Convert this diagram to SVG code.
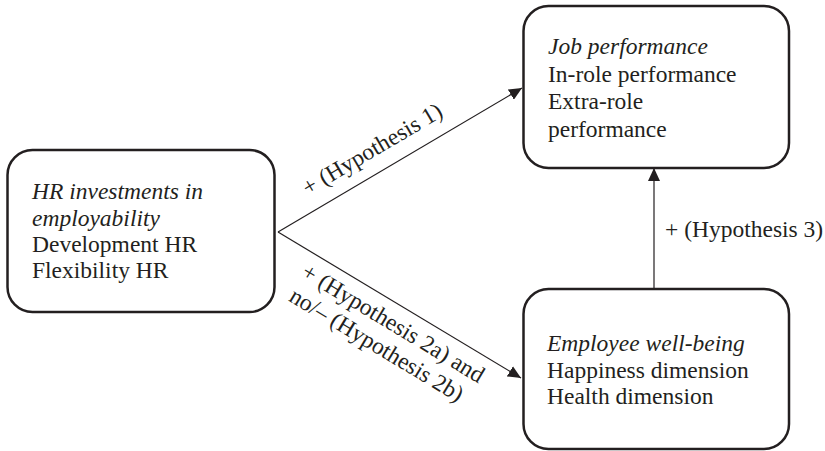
<svg xmlns="http://www.w3.org/2000/svg" width="825" height="451" viewBox="0 0 825 451">
  <style>
    .box { fill: #ffffff; stroke: #231f20; stroke-width: 2.5; }
    .t { font-family: "Liberation Serif", "Times New Roman", serif; font-size: 23.5px; fill: #231f20; }
    .i { font-style: italic; }
    .edge { stroke: #231f20; stroke-width: 1.2; fill: none; }
  </style>
  <defs>
    <marker id="arr" markerUnits="userSpaceOnUse" markerWidth="14" markerHeight="12" refX="13" refY="6" orient="auto">
      <path d="M0,0 L13,6 L0,12 Z" fill="#231f20"/>
    </marker>
  </defs>
  <rect width="825" height="451" fill="#ffffff"/>

  <g id="connectors">
    <line class="edge" x1="278" y1="232" x2="522" y2="88" marker-end="url(#arr)"/>
    <line class="edge" x1="278" y1="232" x2="521" y2="378" marker-end="url(#arr)"/>
    <line class="edge" x1="654" y1="289" x2="654" y2="168" marker-end="url(#arr)"/>
    <text class="t" transform="translate(308,196) rotate(-30.55)">+ (Hypothesis 1)</text>
    <g transform="translate(300,276) rotate(31.1)">
      <text class="t" x="0" y="0">+ (Hypothesis 2a) and</text>
      <text class="t" x="2" y="27">no/– (Hypothesis 2b)</text>
    </g>
    <text class="t" x="665" y="237">+ (Hypothesis 3)</text>
  </g>

  <g id="hr">
    <rect class="box" x="7.5" y="150" width="267" height="162" rx="25"/>
    <text class="t i" x="32" y="199">HR investments in</text>
    <text class="t i" x="32" y="226">employability</text>
    <text class="t" x="32" y="252">Development HR</text>
    <text class="t" x="32" y="278">Flexibility HR</text>
  </g>

  <g id="job">
    <rect class="box" x="523.5" y="6" width="265.5" height="162" rx="25"/>
    <text class="t i" x="548" y="54">Job performance</text>
    <text class="t" x="548" y="82">In-role performance</text>
    <text class="t" x="548" y="109">Extra-role</text>
    <text class="t" x="548" y="137">performance</text>
  </g>

  <g id="wellbeing">
    <rect class="box" x="523.5" y="289" width="265.5" height="160" rx="25"/>
    <text class="t i" x="547" y="351">Employee well-being</text>
    <text class="t" x="547" y="378">Happiness dimension</text>
    <text class="t" x="547" y="404">Health dimension</text>
  </g>
</svg>
